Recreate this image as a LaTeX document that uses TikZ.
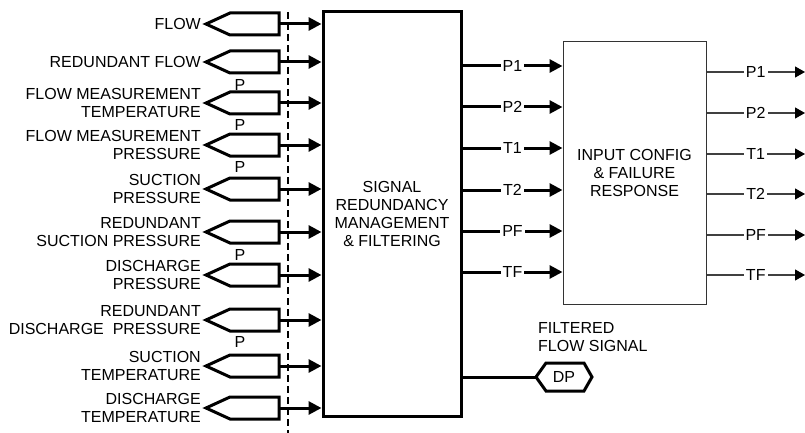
\documentclass[tikz,border=0pt]{standalone}
\usepackage{fontspec}
\setmainfont{Liberation Sans}
\usetikzlibrary{arrows.meta}

\tikzset{
  txt/.style={font=\fontsize{16}{18}\selectfont, inner sep=0pt},
  thickline/.style={line width=3pt},
  bigarrow/.style={line width=3pt, -{Triangle[length=13pt,width=13pt]}},
  thinarrow/.style={line width=1.1pt, black!75, -{Triangle[length=10pt,width=11pt,color=black]}},
  taglbl/.style={txt, fill=white, inner xsep=2pt},
}

\begin{document}
\begin{tikzpicture}[x=1pt,y=-1pt]
  \useasboundingbox (0,0) rectangle (805,433);

  % Main blocks
  \node[draw, thickline, minimum width=138, minimum height=404, txt, align=center] (srm) at (392,214)
    {SIGNAL\\REDUNDANCY\\MANAGEMENT\\\& FILTERING};
  \node[draw=black!80, line width=1pt, minimum width=143, minimum height=262, txt, align=center] (icfr) at (634.5,173)
    {INPUT CONFIG\\\& FAILURE\\RESPONSE};

  % Dashed boundary
  \draw[line width=1.2pt, dash pattern=on 7pt off 4pt] (288,12) -- (288,433);

  % Input tags
  \foreach \i/\y/\lbl in {1/24/{FLOW}, 2/62/{REDUNDANT FLOW},
      3/103/{FLOW MEASUREMENT\\TEMPERATURE}, 4/145/{FLOW MEASUREMENT\\PRESSURE},
      5/189/{SUCTION\\PRESSURE}, 6/232/{REDUNDANT\\SUCTION PRESSURE},
      7/275/{DISCHARGE\\PRESSURE}, 8/320/{REDUNDANT\\DISCHARGE\ \ PRESSURE},
      9/366/{SUCTION\\TEMPERATURE}, 10/408/{DISCHARGE\\TEMPERATURE}} {
    \draw[thickline, fill=white] (206,\y) -- (230,\y-11) -- (279,\y-11) -- (279,\y+11) -- (230,\y+11) -- cycle;
    \coordinate (in\i) at (279,\y);
    \node[txt, anchor=east, align=right] (lbl\i) at (201,\y) {\lbl};
    \draw[bigarrow] (in\i) -- (in\i -| srm.west);
  }
  \foreach \y in {85,125,167,255,342} {
    \node[txt] (p\y) at (240,\y) {P};
  }

  % Filtered signals
  \foreach \i/\y/\sig in {1/66/P1, 2/107/P2, 3/148/T1, 4/190/T2, 5/231/PF, 6/272/TF} {
    \draw[bigarrow] (srm.east |- 0,\y) -- (icfr.west |- 0,\y) node[midway, taglbl] (mid\i) {\sig};
  }

  % Outputs
  \foreach \i/\y/\sig in {1/72/P1, 2/113/P2, 3/154/T1, 4/194/T2, 5/235/PF, 6/275/TF} {
    \coordinate (out\i) at (805,\y);
    \draw[thinarrow] (icfr.east |- out\i) -- (out\i) node[midway, taglbl, text=black] (res\i) {\sig};
  }

  % Filtered flow signal
  \draw[thickline, fill=white] (536,377) -- (546,363) -- (584,363) -- (592,377) -- (584,391) -- (546,391) -- cycle;
  \node[txt] (dp) at (564,377) {DP};
  \coordinate (dptip) at (536,377);
  \draw[thickline] (srm.east |- dptip) -- (dptip);
  \node[txt, anchor=west, align=left] (filt) at (538,337) {FILTERED\\FLOW SIGNAL};
\end{tikzpicture}
\end{document}
